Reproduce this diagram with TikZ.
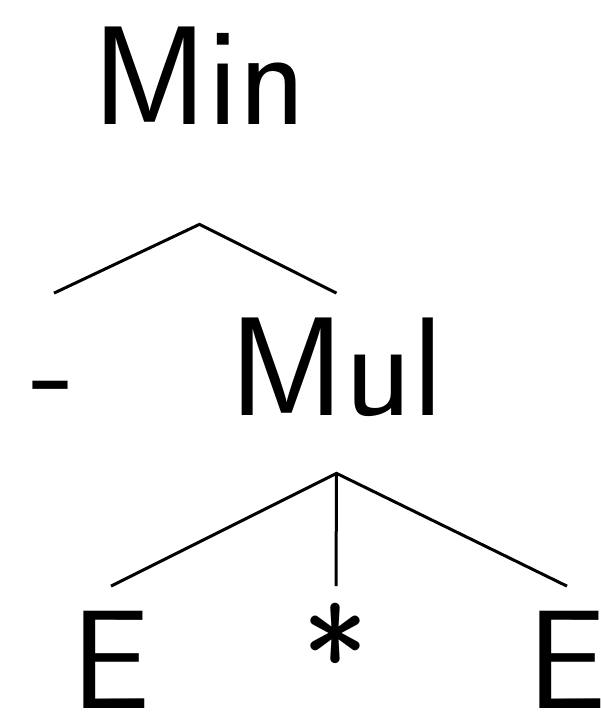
\documentclass[tikz,border=0pt]{standalone}

\begin{document}
\begin{tikzpicture}[x=1cm,y=1cm,
    symb/.style={anchor=base,inner sep=0pt,text height=2.45cm,
      font=\fontsize{80}{80}\selectfont\sffamily},
    branch/.style={line width=.6mm}]
        \useasboundingbox (0,0) rectangle (12,14.24);
        \node[symb,text depth=1.98cm] (min) at (3.99,11.74) {Min};
        \node[symb] (minus) at (1.08,5.92) {-};
        \node[symb,text depth=1.14cm] (mul) at (6.73,5.92) {Mul};
        \node[symb] (lhs) at (2.22,.06) {E};
        \node[symb] (star) at (6.72,.06) {*};
        \node[symb] (rhs) at (11.34,.06) {E};
        \draw[branch] (minus.north) -- (min.south) -- (mul.north);
        \draw[branch] (lhs.north) -- (mul.south) -- (rhs.north);
        \draw[branch] (mul.south) -- (star.north);
      \end{tikzpicture}
\end{document}
